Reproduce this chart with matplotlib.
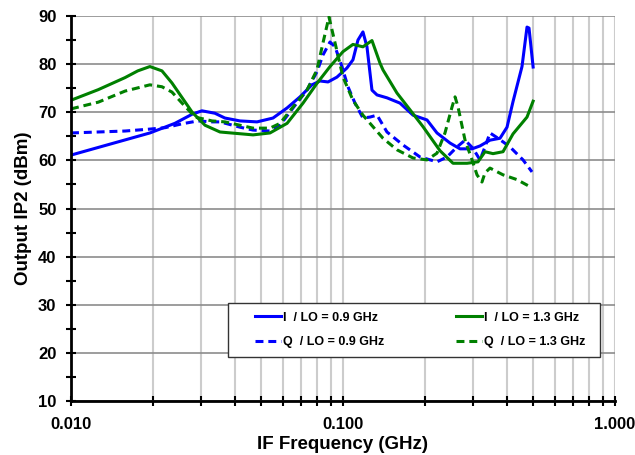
import numpy as np
import matplotlib
matplotlib.use('Agg')
import matplotlib.pyplot as plt
from matplotlib.patches import Rectangle
from matplotlib.ticker import FixedLocator, FixedFormatter, MultipleLocator, NullFormatter

plt.rcParams['font.family'] = ['Liberation Sans', 'DejaVu Sans']
plt.rcParams['font.weight'] = 'bold'

# I / LO = 0.9 GHz
f_i09 = [0.010, 0.0195, 0.0241, 0.0279, 0.0303, 0.0338, 0.0368, 0.0418, 0.0483, 0.0553,
         0.0623, 0.0695, 0.0769, 0.0823, 0.0881, 0.0950, 0.1034, 0.1088, 0.1135, 0.1184,
         0.1225, 0.1278, 0.1334, 0.1451, 0.1620, 0.1809, 0.2036, 0.2216, 0.2475, 0.2693,
         0.2982, 0.3189, 0.3471, 0.3778, 0.4009, 0.4217, 0.4551, 0.4748, 0.4829, 0.50]
v_i09 = [61.1, 65.7, 67.7, 69.6, 70.3, 69.8, 68.8, 68.2, 68.0, 68.8,
         70.9, 73.2, 75.7, 76.5, 76.3, 77.3, 79.2, 80.9, 85.0, 86.7,
         83.6, 74.6, 73.6, 73.0, 71.9, 69.4, 68.4, 65.7, 63.6, 62.4,
         62.4, 63.0, 64.2, 64.6, 66.9, 72.2, 79.5, 87.7, 87.5, 79.4]

# Q / LO = 0.9 GHz
f_q09 = [0.010, 0.0158, 0.0195, 0.0222, 0.0256, 0.0293, 0.0330, 0.0353, 0.0418, 0.0467,
         0.0539, 0.0587, 0.0655, 0.0737, 0.0802, 0.0844, 0.0896, 0.0935, 0.0991, 0.1043,
         0.1107, 0.1184, 0.1257, 0.1334, 0.1451, 0.1662, 0.1920, 0.2216, 0.2412, 0.2626,
         0.2810, 0.3006, 0.3189, 0.3327, 0.3471, 0.3715, 0.4111, 0.4590, 0.4953]
v_q09 = [65.7, 66.1, 66.5, 66.8, 67.6, 68.2, 68.0, 68.0, 66.9, 66.3,
         66.1, 67.3, 70.9, 74.6, 78.4, 81.9, 84.6, 83.6, 79.5, 75.3,
         71.9, 68.8, 69.0, 69.4, 65.9, 63.2, 60.7, 59.7, 60.7, 62.8,
         64.2, 62.5, 60.1, 62.8, 65.7, 64.6, 62.8, 60.1, 57.6]

# I / LO = 1.3 GHz
f_i13 = [0.010, 0.0126, 0.0158, 0.0176, 0.0195, 0.0216, 0.0235, 0.0279, 0.0311, 0.0353,
         0.0467, 0.0539, 0.0623, 0.0713, 0.0802, 0.0896, 0.1000, 0.1088, 0.1184, 0.1278,
         0.1368, 0.1403, 0.1579, 0.1764, 0.1969, 0.2274, 0.2538, 0.2858, 0.3136, 0.3327,
         0.3560, 0.3875, 0.4217, 0.4748, 0.50]
v_i13 = [72.5, 74.7, 77.2, 78.6, 79.5, 78.6, 76.1, 70.0, 67.3, 65.9,
         65.3, 65.7, 67.7, 71.9, 76.0, 79.5, 82.6, 84.1, 83.6, 84.9,
         80.2, 78.8, 74.0, 70.5, 67.0, 62.0, 59.4, 59.4, 59.7, 61.8,
         61.4, 61.8, 65.5, 69.0, 72.3]

# Q / LO = 1.3 GHz
f_q13 = [0.010, 0.0126, 0.0158, 0.0195, 0.0216, 0.0235, 0.0256, 0.0286, 0.0330, 0.0368,
         0.0467, 0.0539, 0.0587, 0.0655, 0.0737, 0.0802, 0.0844, 0.0888, 0.0935, 0.1000,
         0.1088, 0.1184, 0.1257, 0.1403, 0.1579, 0.1809, 0.2036, 0.2216, 0.2371, 0.2517,
         0.2582, 0.2648, 0.2810, 0.2982, 0.3109, 0.3243, 0.3327, 0.3471, 0.3875, 0.4363,
         0.4953]
v_q13 = [70.7, 72.1, 74.4, 75.7, 75.3, 74.2, 71.9, 69.0, 68.2, 68.0,
         66.7, 66.7, 67.7, 71.1, 74.6, 78.8, 84.4, 89.8, 84.4, 77.3,
         72.5, 69.4, 67.7, 64.6, 62.2, 60.5, 60.1, 61.5, 65.7, 71.1,
         73.2, 71.1, 64.2, 60.1, 57.0, 55.5, 57.4, 58.4, 57.0, 56.0,
         54.3]

xticks = [0.01, 0.1, 1.0]
xlabels = ['0.010', '0.100', '1.000']

blue = '#0000FF'
green = '#008000'
dash = (0, (2.6, 1.6))

fig = plt.figure(figsize=(6.35, 4.55), dpi=100)
ax = fig.add_axes([0.1118, 0.1187, 0.8567, 0.8461])

ax.plot(f_i09, v_i09, color=blue, lw=2.2, label='I  / LO = 0.9 GHz')
ax.plot(f_q09, v_q09, color=blue, lw=2.2, ls=dash, label='Q  / LO = 0.9 GHz')
ax.plot(f_i13, v_i13, color=green, lw=2.2, label='I  / LO = 1.3 GHz')
ax.plot(f_q13, v_q13, color=green, lw=2.2, ls=dash, label='Q  / LO = 1.3 GHz')

ax.set_xscale('log')
ax.set_xlim(0.01, 1.0)
ax.set_ylim(10, 90)

ax.xaxis.set_major_locator(FixedLocator(xticks))
ax.xaxis.set_major_formatter(FixedFormatter(xlabels))
ax.xaxis.set_minor_locator(FixedLocator([k * 10.0**e for e in (-2, -1) for k in range(2, 10)]))
ax.xaxis.set_minor_formatter(NullFormatter())
ax.yaxis.set_major_locator(MultipleLocator(10))
ax.yaxis.set_minor_locator(MultipleLocator(5))

ax.grid(True, axis='x', which='both', color='#cccccc', lw=1.5)
ax.grid(True, axis='y', which='major', color='#8c8c8c', lw=1.2)
ax.set_axisbelow(True)

for s in ('top', 'right'):
    ax.spines[s].set_visible(False)
for s in ('left', 'bottom'):
    ax.spines[s].set_linewidth(2)
    ax.spines[s].set_zorder(5)

ax.tick_params(which='both', direction='inout', length=7, width=1.5, labelsize=12)
ax.tick_params(axis='x', which='major', pad=8)
ax.tick_params(axis='y', which='major', pad=7)

ax.set_xlabel('IF Frequency (GHz)', fontsize=13.5, fontweight='bold', labelpad=3)
ax.set_ylabel('Output IP2 (dBm)', fontsize=13.5, fontweight='bold', labelpad=4)

# legend box drawn separately so the inner padding can match
ax.add_patch(Rectangle((0.2886, 0.1143), 0.684, 0.140, transform=ax.transAxes,
                       facecolor='white', edgecolor='#333333', lw=1.0, zorder=6))
leg = ax.legend(ncol=2, loc='center', bbox_to_anchor=(0.338, 0.135, 0.607, 0.099),
                mode='expand', fontsize=9, frameon=False,
                handlelength=2.1, borderaxespad=0, borderpad=0,
                labelspacing=1.0, handletextpad=0.15, columnspacing=1.0)
leg.set_zorder(7)

fig.savefig('out.png', dpi=100)
